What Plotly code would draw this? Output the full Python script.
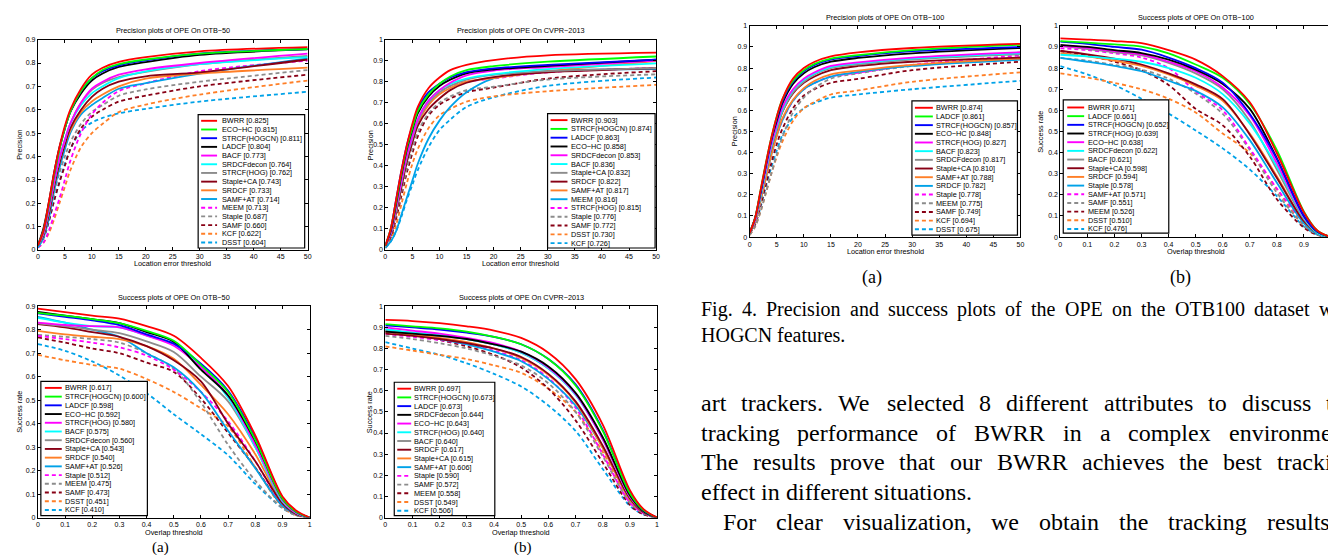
import plotly.graph_objects as go

W, H = 1336, 555

# ---------------- data ----------------
PREC_X = [0, 1, 2, 3, 4, 5, 6, 8, 10, 12, 15, 20, 30, 50]
SUCC_X = [0, 0.1, 0.2, 0.3, 0.4, 0.5, 0.6, 0.7, 0.8, 0.9, 0.95, 1.0]

# Precision plots of OPE on OTB-50
OTB50_PREC_NAMES = ["BWRR", "ECO−HC", "STRCF(HOGCN)", "LADCF", "BACF", "SRDCFdecon", "STRCF(HOG)",
                    "Staple+CA", "SRDCF", "SAMF+AT", "MEEM", "Staple", "SAMF", "KCF", "DSST"]
OTB50_PREC_SCORES = [0.825, 0.815, 0.811, 0.804, 0.773, 0.764, 0.762, 0.743, 0.733, 0.714,
                     0.713, 0.687, 0.660, 0.622, 0.604]
OTB50_PREC_VALUES = [
    [0.02, 0.08, 0.20, 0.33, 0.44, 0.53, 0.60, 0.69, 0.75, 0.78, 0.805, 0.825, 0.85, 0.868],
    [0.02, 0.08, 0.19, 0.32, 0.43, 0.52, 0.59, 0.68, 0.735, 0.77, 0.795, 0.815, 0.84, 0.86],
    [0.02, 0.08, 0.19, 0.32, 0.43, 0.52, 0.59, 0.68, 0.735, 0.765, 0.79, 0.811, 0.84, 0.86],
    [0.02, 0.09, 0.20, 0.33, 0.44, 0.52, 0.59, 0.67, 0.725, 0.755, 0.783, 0.804, 0.835, 0.858],
    [0.02, 0.07, 0.17, 0.29, 0.39, 0.47, 0.54, 0.63, 0.69, 0.72, 0.75, 0.773, 0.80, 0.84],
    [0.02, 0.07, 0.17, 0.29, 0.39, 0.47, 0.54, 0.62, 0.67, 0.70, 0.735, 0.764, 0.795, 0.825],
    [0.02, 0.07, 0.17, 0.29, 0.39, 0.47, 0.54, 0.63, 0.685, 0.715, 0.74, 0.762, 0.795, 0.83],
    [0.02, 0.06, 0.15, 0.27, 0.37, 0.45, 0.52, 0.60, 0.655, 0.69, 0.72, 0.743, 0.76, 0.815],
    [0.02, 0.06, 0.15, 0.27, 0.37, 0.45, 0.51, 0.59, 0.635, 0.665, 0.70, 0.733, 0.755, 0.78],
    [0.01, 0.05, 0.13, 0.25, 0.35, 0.43, 0.50, 0.58, 0.62, 0.65, 0.69, 0.714, 0.755, 0.82],
    [0.01, 0.03, 0.08, 0.15, 0.22, 0.30, 0.38, 0.50, 0.58, 0.63, 0.68, 0.713, 0.765, 0.81],
    [0.02, 0.06, 0.14, 0.24, 0.33, 0.40, 0.46, 0.54, 0.59, 0.62, 0.66, 0.687, 0.72, 0.77],
    [0.02, 0.05, 0.12, 0.21, 0.29, 0.36, 0.43, 0.52, 0.57, 0.60, 0.635, 0.660, 0.70, 0.75],
    [0.01, 0.03, 0.07, 0.13, 0.20, 0.27, 0.34, 0.44, 0.50, 0.54, 0.59, 0.622, 0.665, 0.725],
    [0.02, 0.05, 0.12, 0.21, 0.29, 0.37, 0.43, 0.51, 0.545, 0.565, 0.585, 0.604, 0.635, 0.677],
]

# Precision plots of OPE on CVPR-2013
CVPR_PREC_NAMES = ["BWRR", "STRCF(HOGCN)", "LADCF", "ECO−HC", "SRDCFdecon", "BACF", "Staple+CA",
                   "SRDCF", "SAMF+AT", "MEEM", "STRCF(HOG)", "Staple", "SAMF", "DSST", "KCF"]
CVPR_PREC_SCORES = [0.903, 0.874, 0.863, 0.858, 0.853, 0.836, 0.832, 0.822, 0.817, 0.816,
                    0.815, 0.776, 0.772, 0.730, 0.726]
CVPR_PREC_VALUES = [
    [0.02, 0.10, 0.24, 0.38, 0.50, 0.60, 0.68, 0.77, 0.82, 0.855, 0.88, 0.903, 0.925, 0.938],
    [0.02, 0.10, 0.23, 0.37, 0.49, 0.58, 0.66, 0.74, 0.79, 0.825, 0.855, 0.874, 0.895, 0.92],
    [0.02, 0.10, 0.24, 0.38, 0.50, 0.59, 0.67, 0.75, 0.79, 0.82, 0.845, 0.863, 0.88, 0.905],
    [0.02, 0.09, 0.22, 0.36, 0.48, 0.57, 0.65, 0.73, 0.78, 0.81, 0.84, 0.858, 0.875, 0.905],
    [0.02, 0.08, 0.20, 0.33, 0.45, 0.54, 0.62, 0.71, 0.76, 0.795, 0.83, 0.853, 0.87, 0.90],
    [0.02, 0.08, 0.20, 0.33, 0.45, 0.54, 0.62, 0.71, 0.76, 0.79, 0.815, 0.836, 0.86, 0.887],
    [0.02, 0.08, 0.19, 0.32, 0.44, 0.53, 0.61, 0.70, 0.75, 0.78, 0.81, 0.832, 0.85, 0.865],
    [0.02, 0.07, 0.18, 0.30, 0.42, 0.51, 0.59, 0.67, 0.72, 0.76, 0.795, 0.822, 0.845, 0.864],
    [0.02, 0.07, 0.18, 0.31, 0.43, 0.52, 0.60, 0.69, 0.74, 0.77, 0.80, 0.817, 0.85, 0.898],
    [0.01, 0.04, 0.09, 0.17, 0.25, 0.33, 0.41, 0.53, 0.615, 0.68, 0.75, 0.816, 0.85, 0.86],
    [0.02, 0.08, 0.19, 0.32, 0.44, 0.53, 0.61, 0.70, 0.75, 0.78, 0.80, 0.815, 0.845, 0.865],
    [0.02, 0.07, 0.17, 0.28, 0.39, 0.48, 0.56, 0.65, 0.70, 0.73, 0.76, 0.776, 0.81, 0.835],
    [0.02, 0.06, 0.15, 0.26, 0.37, 0.46, 0.54, 0.64, 0.69, 0.72, 0.75, 0.772, 0.815, 0.85],
    [0.01, 0.05, 0.12, 0.22, 0.32, 0.41, 0.48, 0.58, 0.64, 0.67, 0.705, 0.730, 0.755, 0.785],
    [0.01, 0.04, 0.09, 0.16, 0.24, 0.31, 0.38, 0.49, 0.57, 0.62, 0.68, 0.726, 0.78, 0.82],
]

# Success plots of OPE on OTB-50
OTB50_SUCC_NAMES = ["BWRR", "STRCF(HOGCN)", "LADCF", "ECO−HC", "STRCF(HOG)", "BACF", "SRDCFdecon",
                    "Staple+CA", "SRDCF", "SAMF+AT", "Staple", "MEEM", "SAMF", "DSST", "KCF"]
OTB50_SUCC_SCORES = [0.617, 0.600, 0.598, 0.592, 0.580, 0.575, 0.560, 0.543, 0.540, 0.526,
                     0.512, 0.475, 0.473, 0.451, 0.410]
OTB50_SUCC_VALUES = [
    [0.89, 0.875, 0.86, 0.847, 0.815, 0.774, 0.68, 0.56, 0.35, 0.09, 0.03, 0.0],
    [0.872, 0.86, 0.845, 0.828, 0.795, 0.753, 0.65, 0.535, 0.33, 0.08, 0.025, 0.0],
    [0.87, 0.855, 0.84, 0.82, 0.78, 0.74, 0.655, 0.54, 0.34, 0.085, 0.025, 0.0],
    [0.876, 0.86, 0.845, 0.828, 0.79, 0.748, 0.63, 0.52, 0.325, 0.08, 0.025, 0.0],
    [0.83, 0.82, 0.815, 0.81, 0.775, 0.732, 0.64, 0.52, 0.31, 0.075, 0.02, 0.0],
    [0.85, 0.83, 0.815, 0.81, 0.775, 0.74, 0.645, 0.51, 0.30, 0.07, 0.02, 0.0],
    [0.827, 0.815, 0.80, 0.785, 0.75, 0.705, 0.60, 0.495, 0.30, 0.07, 0.02, 0.0],
    [0.824, 0.81, 0.79, 0.77, 0.73, 0.67, 0.58, 0.40, 0.24, 0.06, 0.015, 0.0],
    [0.795, 0.78, 0.77, 0.76, 0.73, 0.676, 0.565, 0.44, 0.27, 0.065, 0.02, 0.0],
    [0.855, 0.83, 0.80, 0.77, 0.70, 0.64, 0.535, 0.37, 0.21, 0.05, 0.015, 0.0],
    [0.774, 0.76, 0.745, 0.725, 0.69, 0.63, 0.535, 0.41, 0.24, 0.055, 0.015, 0.0],
    [0.778, 0.77, 0.76, 0.745, 0.70, 0.634, 0.49, 0.31, 0.157, 0.04, 0.01, 0.0],
    [0.767, 0.745, 0.72, 0.70, 0.66, 0.62, 0.507, 0.36, 0.213, 0.05, 0.012, 0.0],
    [0.693, 0.67, 0.65, 0.634, 0.59, 0.535, 0.465, 0.388, 0.213, 0.045, 0.01, 0.0],
    [0.739, 0.71, 0.665, 0.605, 0.53, 0.44, 0.355, 0.265, 0.143, 0.04, 0.01, 0.0],
]

# Success plots of OPE on CVPR-2013
CVPR_SUCC_NAMES = ["BWRR", "STRCF(HOGCN)", "LADCF", "SRDCFdecon", "ECO−HC", "STRCF(HOG)", "BACF",
                   "SRDCF", "Staple+CA", "SAMF+AT", "Staple", "SAMF", "MEEM", "DSST", "KCF"]
CVPR_SUCC_SCORES = [0.697, 0.673, 0.673, 0.644, 0.643, 0.640, 0.640, 0.617, 0.615, 0.606,
                    0.590, 0.572, 0.558, 0.549, 0.506]
CVPR_SUCC_VALUES = [
    [0.935, 0.93, 0.92, 0.905, 0.885, 0.85, 0.78, 0.655, 0.44, 0.13, 0.04, 0.0],
    [0.915, 0.905, 0.895, 0.88, 0.855, 0.82, 0.75, 0.625, 0.41, 0.115, 0.035, 0.0],
    [0.91, 0.90, 0.89, 0.875, 0.855, 0.82, 0.75, 0.63, 0.415, 0.12, 0.035, 0.0],
    [0.88, 0.87, 0.86, 0.845, 0.82, 0.785, 0.715, 0.59, 0.38, 0.105, 0.03, 0.0],
    [0.90, 0.885, 0.87, 0.85, 0.825, 0.785, 0.71, 0.585, 0.37, 0.10, 0.03, 0.0],
    [0.89, 0.875, 0.865, 0.845, 0.82, 0.78, 0.705, 0.58, 0.37, 0.10, 0.03, 0.0],
    [0.885, 0.875, 0.86, 0.845, 0.82, 0.78, 0.705, 0.585, 0.375, 0.10, 0.03, 0.0],
    [0.87, 0.86, 0.845, 0.825, 0.80, 0.76, 0.68, 0.55, 0.34, 0.09, 0.025, 0.0],
    [0.88, 0.865, 0.85, 0.83, 0.80, 0.755, 0.675, 0.545, 0.33, 0.085, 0.025, 0.0],
    [0.89, 0.87, 0.845, 0.82, 0.785, 0.74, 0.655, 0.53, 0.33, 0.085, 0.025, 0.0],
    [0.87, 0.855, 0.84, 0.82, 0.79, 0.745, 0.66, 0.52, 0.30, 0.07, 0.02, 0.0],
    [0.86, 0.845, 0.825, 0.80, 0.765, 0.72, 0.635, 0.50, 0.29, 0.07, 0.02, 0.0],
    [0.88, 0.865, 0.84, 0.81, 0.77, 0.71, 0.61, 0.46, 0.26, 0.06, 0.015, 0.0],
    [0.81, 0.79, 0.77, 0.75, 0.72, 0.685, 0.61, 0.50, 0.31, 0.075, 0.02, 0.0],
    [0.83, 0.80, 0.77, 0.73, 0.68, 0.62, 0.53, 0.41, 0.23, 0.055, 0.015, 0.0],
]

# Precision plots of OPE on OTB-100
OTB100_PREC_NAMES = ["BWRR", "LADCF", "STRCF(HOGCN)", "ECO−HC", "STRCF(HOG)", "BACF", "SRDCFdecon",
                     "Staple+CA", "SAMF+AT", "SRDCF", "Staple", "MEEM", "SAMF", "KCF", "DSST"]
OTB100_PREC_SCORES = [0.874, 0.861, 0.857, 0.848, 0.827, 0.823, 0.817, 0.810, 0.788, 0.782,
                      0.778, 0.775, 0.749, 0.694, 0.675]
OTB100_PREC_VALUES = [
    [0.02, 0.09, 0.22, 0.35, 0.47, 0.57, 0.65, 0.75, 0.80, 0.83, 0.855, 0.874, 0.895, 0.915],
    [0.02, 0.09, 0.22, 0.35, 0.47, 0.57, 0.65, 0.74, 0.79, 0.82, 0.845, 0.861, 0.885, 0.91],
    [0.02, 0.09, 0.21, 0.34, 0.46, 0.56, 0.64, 0.735, 0.785, 0.815, 0.84, 0.857, 0.88, 0.90],
    [0.02, 0.09, 0.21, 0.34, 0.46, 0.55, 0.63, 0.725, 0.775, 0.805, 0.83, 0.848, 0.87, 0.895],
    [0.02, 0.08, 0.20, 0.32, 0.44, 0.53, 0.61, 0.70, 0.75, 0.78, 0.81, 0.827, 0.85, 0.875],
    [0.02, 0.08, 0.19, 0.31, 0.43, 0.52, 0.60, 0.695, 0.745, 0.775, 0.805, 0.823, 0.845, 0.87],
    [0.02, 0.08, 0.19, 0.31, 0.42, 0.51, 0.59, 0.685, 0.735, 0.77, 0.80, 0.817, 0.84, 0.865],
    [0.02, 0.08, 0.19, 0.31, 0.42, 0.51, 0.59, 0.68, 0.73, 0.76, 0.79, 0.810, 0.83, 0.85],
    [0.02, 0.07, 0.17, 0.28, 0.39, 0.48, 0.56, 0.65, 0.705, 0.74, 0.77, 0.788, 0.815, 0.845],
    [0.02, 0.07, 0.17, 0.28, 0.39, 0.48, 0.55, 0.645, 0.70, 0.73, 0.76, 0.782, 0.81, 0.84],
    [0.02, 0.07, 0.17, 0.28, 0.39, 0.48, 0.55, 0.645, 0.70, 0.73, 0.76, 0.778, 0.815, 0.86],
    [0.01, 0.05, 0.12, 0.21, 0.30, 0.39, 0.47, 0.59, 0.66, 0.705, 0.75, 0.775, 0.81, 0.85],
    [0.02, 0.06, 0.15, 0.25, 0.35, 0.44, 0.51, 0.61, 0.67, 0.70, 0.73, 0.749, 0.79, 0.83],
    [0.01, 0.05, 0.12, 0.21, 0.30, 0.38, 0.45, 0.55, 0.61, 0.64, 0.675, 0.694, 0.735, 0.78],
    [0.02, 0.06, 0.14, 0.24, 0.33, 0.41, 0.48, 0.565, 0.61, 0.635, 0.66, 0.675, 0.70, 0.74],
]

# Success plots of OPE on OTB-100
OTB100_SUCC_NAMES = ["BWRR", "LADCF", "STRCF(HOGCN)", "STRCF(HOG)", "ECO−HC", "SRDCFdecon", "BACF",
                     "Staple+CA", "SRDCF", "Staple", "SAMF+AT", "SAMF", "MEEM", "DSST", "KCF"]
OTB100_SUCC_SCORES = [0.671, 0.661, 0.652, 0.639, 0.638, 0.622, 0.621, 0.598, 0.594, 0.578,
                      0.571, 0.551, 0.526, 0.510, 0.476]
OTB100_SUCC_VALUES = [
    [0.941, 0.935, 0.928, 0.918, 0.885, 0.84, 0.762, 0.638, 0.397, 0.117, 0.03, 0.0],
    [0.928, 0.92, 0.912, 0.902, 0.87, 0.817, 0.754, 0.63, 0.412, 0.12, 0.03, 0.0],
    [0.925, 0.915, 0.90, 0.887, 0.85, 0.80, 0.731, 0.583, 0.37, 0.10, 0.025, 0.0],
    [0.91, 0.90, 0.885, 0.871, 0.84, 0.793, 0.725, 0.607, 0.373, 0.10, 0.025, 0.0],
    [0.905, 0.895, 0.88, 0.865, 0.83, 0.785, 0.708, 0.575, 0.35, 0.095, 0.025, 0.0],
    [0.863, 0.855, 0.845, 0.83, 0.80, 0.754, 0.677, 0.537, 0.334, 0.09, 0.02, 0.0],
    [0.905, 0.89, 0.875, 0.86, 0.825, 0.775, 0.70, 0.55, 0.32, 0.085, 0.02, 0.0],
    [0.882, 0.865, 0.845, 0.817, 0.775, 0.723, 0.653, 0.485, 0.28, 0.075, 0.02, 0.0],
    [0.871, 0.855, 0.835, 0.81, 0.77, 0.716, 0.645, 0.49, 0.288, 0.075, 0.02, 0.0],
    [0.848, 0.83, 0.81, 0.785, 0.74, 0.692, 0.614, 0.459, 0.257, 0.065, 0.015, 0.0],
    [0.894, 0.885, 0.87, 0.85, 0.80, 0.69, 0.60, 0.42, 0.23, 0.07, 0.02, 0.0],
    [0.848, 0.835, 0.815, 0.793, 0.75, 0.68, 0.583, 0.412, 0.21, 0.055, 0.012, 0.0],
    [0.88, 0.86, 0.83, 0.79, 0.72, 0.607, 0.529, 0.381, 0.179, 0.045, 0.01, 0.0],
    [0.775, 0.755, 0.73, 0.70, 0.655, 0.59, 0.49, 0.397, 0.226, 0.055, 0.012, 0.0],
    [0.809, 0.77, 0.72, 0.655, 0.585, 0.505, 0.42, 0.32, 0.194, 0.05, 0.012, 0.0],
]

PREC_TICKS = [0, 5, 10, 15, 20, 25, 30, 35, 40, 45, 50]
SUCC_TICKS = [0, 0.1, 0.2, 0.3, 0.4, 0.5, 0.6, 0.7, 0.8, 0.9, 1]
Y09_TICKS = [0, 0.1, 0.2, 0.3, 0.4, 0.5, 0.6, 0.7, 0.8, 0.9]
Y10_TICKS = [0, 0.1, 0.2, 0.3, 0.4, 0.5, 0.6, 0.7, 0.8, 0.9, 1]

# ---------------- style ----------------
COLORS = ["#FF0000", "#00FF00", "#0000FF", "#000000", "#FF00FF", "#00FFFF", "#8C8C8C",
          "#880015", "#FF7F27", "#00A2E8", "#FF00FF", "#8C8C8C", "#880015", "#FF7F27", "#00A2E8"]
DASHES = ["solid"] * 10 + ["4px,3px"] * 5
SANS = "Liberation Sans, Arial, Helvetica, sans-serif"
SERIF = "Liberation Serif, Times New Roman, serif"
FS = 7.3


def tlabel(v):
    return ("%g" % v)


panels = [
    dict(box=(28, 299, 28, 241), xs=PREC_X, xr=[0, 50], xt=PREC_TICKS, yr=[0, 0.9], yt=Y09_TICKS,
         names=OTB50_PREC_NAMES, scores=OTB50_PREC_SCORES, vals=OTB50_PREC_VALUES,
         title="Precision plots of OPE On OTB−50", ty=19, xlabel="Location error threshold", xly=255,
         ylabel="Precision", ylx=10,
         leg=(189, 296, 104, 239, 192, 208, 211.5, 110.2, 8.8)),
    dict(box=(377, 649, 28, 241), xs=PREC_X, xr=[0, 50], xt=PREC_TICKS, yr=[0, 1], yt=Y10_TICKS,
         names=CVPR_PREC_NAMES, scores=CVPR_PREC_SCORES, vals=CVPR_PREC_VALUES,
         title="Precision plots of OPE On CVPR−2013", ty=19, xlabel="Location error threshold", xly=255,
         ylabel="Precision", ylx=362,
         leg=(540, 648, 103, 239, 543, 560, 562.5, 109.5, 8.9)),
    dict(box=(28, 301, 298, 512), xs=SUCC_X, xr=[0, 1], xt=SUCC_TICKS, yr=[0, 0.9], yt=Y09_TICKS,
         names=OTB50_SUCC_NAMES, scores=OTB50_SUCC_SCORES, vals=OTB50_SUCC_VALUES,
         title="Success plots of OPE On OTB−50", ty=289, xlabel="Overlap threshold", xly=527,
         ylabel="Success rate", ylx=10,
         leg=(31, 138, 374, 510, 35, 52, 54.5, 380.7, 8.83)),
    dict(box=(377, 650, 298, 512), xs=SUCC_X, xr=[0, 1], xt=SUCC_TICKS, yr=[0, 1], yt=Y10_TICKS,
         names=CVPR_SUCC_NAMES, scores=CVPR_SUCC_SCORES, vals=CVPR_SUCC_VALUES,
         title="Success plots of OPE On CVPR−2013", ty=289, xlabel="Overlap threshold", xly=527,
         ylabel="Success rate", ylx=362,
         leg=(386, 487, 375, 510, 389, 403, 404.5, 381.5, 8.83)),
    dict(box=(743, 1015, 14, 228), xs=PREC_X, xr=[0, 50], xt=PREC_TICKS, yr=[0, 1], yt=Y10_TICKS,
         names=OTB100_PREC_NAMES, scores=OTB100_PREC_SCORES, vals=OTB100_PREC_VALUES,
         title="Precision plots of OPE On OTB−100", ty=5.5, xlabel="Location error threshold", xly=242.5,
         ylabel="Precision", ylx=728,
         leg=(906, 1012, 90, 226, 909, 927, 928.8, 97, 8.79)),
    dict(box=(1055, 1327, 14, 228), xs=SUCC_X, xr=[0, 1], xt=SUCC_TICKS, yr=[0, 1], yt=Y10_TICKS,
         names=OTB100_SUCC_NAMES, scores=OTB100_SUCC_SCORES, vals=OTB100_SUCC_VALUES,
         title="Success plots of OPE On OTB−100", ty=5.5, xlabel="Overlap threshold", xly=242.5,
         ylabel="Success rate", ylx=1035,
         leg=(1058, 1164, 89, 224, 1062, 1079, 1081.8, 96.7, 8.79)),
]


def PX(x):
    return x / W


def PY(y):
    return 1 - y / H


fig = go.Figure()
shapes = []
annotations = []
layout_axes = {}

for i, p in enumerate(panels, start=1):
    sfx = "" if i == 1 else str(i)
    # curves, drawn so the top-ranked tracker ends up on top
    for rank in reversed(range(len(p["names"]))):
        fig.add_trace(go.Scatter(
            x=p["xs"], y=p["vals"][rank], xaxis="x" + sfx, yaxis="y" + sfx, mode="lines",
            line=dict(color=COLORS[rank], width=1.8, dash=DASHES[rank], shape="spline", smoothing=0.9),
            showlegend=False, hoverinfo="skip"))
    x0, x1, y0, y1 = p["box"]
    common = dict(showline=True, linecolor="black", linewidth=1, mirror="ticks", ticks="inside",
                  ticklen=3, tickwidth=0.8, tickcolor="black", showgrid=False, zeroline=False,
                  tickfont=dict(family=SANS, size=7, color="black"), fixedrange=True, tickmode="array")
    layout_axes["xaxis" + sfx] = dict(domain=[PX(x0), PX(x1)], range=p["xr"], anchor="y" + sfx,
                                      tickvals=p["xt"], ticktext=[tlabel(v) for v in p["xt"]], **common)
    layout_axes["yaxis" + sfx] = dict(domain=[PY(y1), PY(y0)], range=p["yr"], anchor="x" + sfx,
                                      tickvals=p["yt"], ticktext=[tlabel(v) for v in p["yt"]], **common)
    cx = (x0 + x1) / 2
    cy = (y0 + y1) / 2
    annotations.append(dict(x=PX(cx), y=PY(p["ty"]), xref="paper", yref="paper", text=p["title"],
                            showarrow=False, xanchor="center", yanchor="middle", borderpad=0,
                            font=dict(family=SANS, size=FS, color="black")))
    annotations.append(dict(x=PX(cx), y=PY(p["xly"]), xref="paper", yref="paper", text=p["xlabel"],
                            showarrow=False, xanchor="center", yanchor="middle", borderpad=0,
                            font=dict(family=SANS, size=FS, color="black")))
    annotations.append(dict(x=PX(p["ylx"]), y=PY(cy), xref="paper", yref="paper", text=p["ylabel"],
                            showarrow=False, xanchor="center", yanchor="middle", textangle=-90,
                            borderpad=0, font=dict(family=SANS, size=FS, color="black")))
    # legend box
    bx0, bx1, by0, by1, lx0, lx1, tx, fy, dy = p["leg"]
    shapes.append(dict(type="rect", xref="paper", yref="paper", x0=PX(bx0), x1=PX(bx1),
                       y0=PY(by1), y1=PY(by0), fillcolor="white", line=dict(color="black", width=1.2),
                       layer="above"))
    for k, (nm, sc) in enumerate(zip(p["names"], p["scores"])):
        yy = fy + k * dy
        shapes.append(dict(type="line", xref="paper", yref="paper", x0=PX(lx0), x1=PX(lx1),
                           y0=PY(yy), y1=PY(yy), layer="above",
                           line=dict(color=COLORS[k], width=1.9, dash=DASHES[k])))
        annotations.append(dict(x=PX(tx), y=PY(yy), xref="paper", yref="paper",
                                text="%s [%.3f]" % (nm, sc), showarrow=False,
                                xanchor="left", yanchor="middle", borderpad=0,
                                font=dict(family=SANS, size=FS, color="black")))

# ---------------- page text (caption and body) ----------------
TIMES_W = {
    'a': 444, 'b': 500, 'c': 444, 'd': 500, 'e': 444, 'f': 333, 'g': 500, 'h': 500, 'i': 278,
    'j': 278, 'k': 500, 'l': 278, 'm': 778, 'n': 500, 'o': 500, 'p': 500, 'q': 500, 'r': 333,
    's': 389, 't': 278, 'u': 500, 'v': 500, 'w': 722, 'x': 500, 'y': 500, 'z': 444,
    'A': 722, 'B': 667, 'C': 667, 'D': 722, 'E': 611, 'F': 556, 'G': 722, 'H': 722, 'I': 333,
    'J': 389, 'K': 722, 'L': 611, 'M': 889, 'N': 722, 'O': 722, 'P': 556, 'Q': 722, 'R': 667,
    'S': 556, 'T': 611, 'U': 722, 'V': 722, 'W': 944, 'X': 722, 'Y': 722, 'Z': 611,
    ' ': 250, '.': 250, ',': 250, '(': 333, ')': 333,
}


def text_w(s, size):
    return sum(TIMES_W.get(c, 500) for c in s) / 1000.0 * size


def add_text_line(line, x0, y, size, x_end=None):
    words = line.split()
    widths = [text_w(w, size) for w in words]
    if x_end is not None and len(words) > 1:
        gap = (x_end - x0 - sum(widths)) / (len(words) - 1)
    else:
        gap = text_w(" ", size)
    x = x0
    for w, wd in zip(words, widths):
        annotations.append(dict(x=PX(x), y=PY(y), xref="paper", yref="paper", text=w,
                                showarrow=False, xanchor="left", yanchor="middle", borderpad=0,
                                font=dict(family=SERIF, size=size, color="black")))
        x += wd + gap


# sub-figure labels: (text, x centre, top of text box, font size)
SUBLABELS = [("(a)", 151, 532.5, 15), ("(b)", 515, 532.5, 15), ("(a)", 866, 257, 18), ("(b)", 1176, 257, 18)]
for t, x, y, s in SUBLABELS:
    annotations.append(dict(x=PX(x), y=PY(y), xref="paper", yref="paper", text=t, showarrow=False,
                            xanchor="center", yanchor="top", borderpad=0,
                            font=dict(family=SERIF, size=s, color="black")))

CAPTION = ["Fig. 4.  Precision and success plots of the OPE on the OTB100 dataset w",
           "HOGCN features."]
BODY = ["art trackers. We selected 8 different attributes to discuss t",
        "tracking performance of BWRR in a complex environme",
        "The results prove that our BWRR achieves the best tracki",
        "effect in different situations.",
        "For clear visualization, we obtain the tracking results"]

TEXT_X = 693
add_text_line(CAPTION[0], TEXT_X, 301, 20, 1328)
add_text_line(CAPTION[1], TEXT_X, 327, 20)
body_y = [396, 426, 456, 486.5, 516.5]
add_text_line(BODY[0], TEXT_X, body_y[0], 24, 1328)
add_text_line(BODY[1], TEXT_X, body_y[1], 24, 1326)
add_text_line(BODY[2], TEXT_X, body_y[2], 24, 1326)
add_text_line(BODY[3], TEXT_X, body_y[3], 24)
add_text_line(BODY[4], TEXT_X + 22, body_y[4], 24, 1324)

fig.update_layout(width=W, height=H, margin=dict(l=0, r=0, t=0, b=0),
                  paper_bgcolor="white", plot_bgcolor="white", showlegend=False,
                  shapes=shapes, annotations=annotations, **layout_axes)

fig.write_html("out.html")
